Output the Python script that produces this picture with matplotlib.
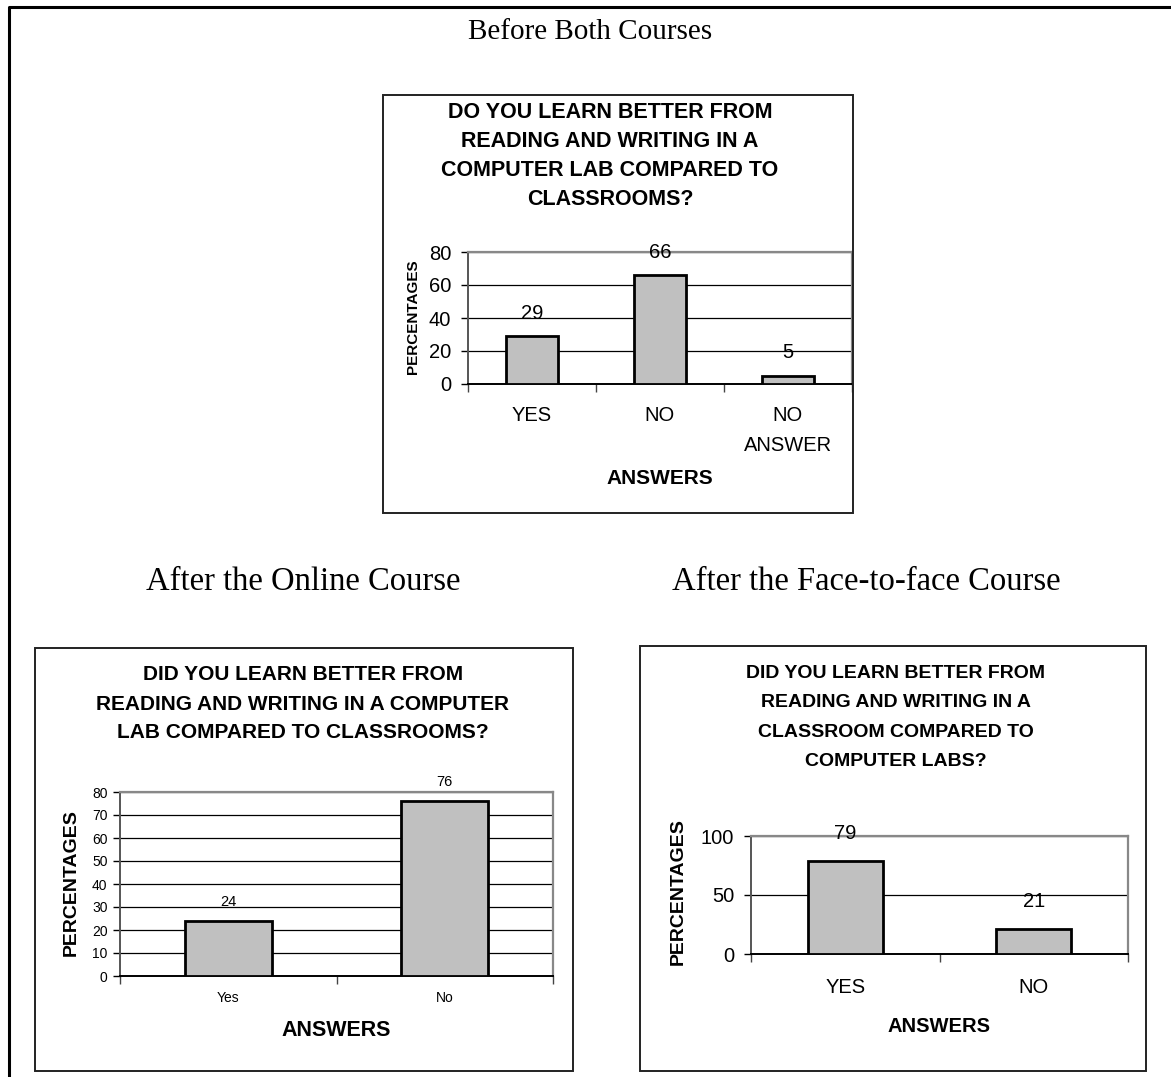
import numpy as np
import matplotlib
matplotlib.use('Agg')
from matplotlib import pyplot as plt
from matplotlib.patches import Rectangle
from matplotlib.lines import Line2D

# survey answers, in percent
before_cats = ['YES', 'NO', 'NO\nANSWER']
before_vals = [29, 66, 5]

online_cats = ['Yes', 'No']
online_vals = [24, 76]

f2f_cats = ['YES', 'NO']
f2f_vals = [79, 21]

W, H = 1171, 1077
SANS = 'Liberation Sans'
SERIF = 'Liberation Serif'


def fx(x):
    return x / W


def fy(y):
    return 1 - y / H


def ftext(fig, x, y, s, **kw):
    fig.text(fx(x), fy(y), s, ha='center', va='center', **kw)


def panel_box(fig, x0, y0, x1, y1):
    fig.add_artist(Rectangle((fx(x0), fy(y1)), fx(x1) - fx(x0), fy(y0) - fy(y1),
                             transform=fig.transFigure, fill=False,
                             edgecolor='#222222', lw=1.4))


def bar_chart(fig, box, cats, vals, ymax, ystep, tick_fs, val_fs, val_off, tick_pad, lab_pad):
    x0, y0, x1, y1 = box
    ax = fig.add_axes([fx(x0), fy(y1), fx(x1) - fx(x0), fy(y0) - fy(y1)])
    n = len(cats)
    pos = np.arange(n)
    ax.bar(pos, vals, width=0.4, color='#c0c0c0', edgecolor='black', lw=2, zorder=3)
    ax.set_xlim(-0.5, n - 0.5)
    ax.set_ylim(0, ymax)
    ax.set_yticks(np.arange(0, ymax + 1, ystep))
    ax.yaxis.grid(True, color='black', lw=0.9, zorder=1)
    ax.set_axisbelow(True)
    ax.tick_params(axis='y', direction='out', length=5, width=1, pad=tick_pad,
                   labelsize=tick_fs, color='black')
    ax.set_xticks(pos)
    ax.set_xticklabels(cats, fontsize=tick_fs, linespacing=1.75)
    ax.tick_params(axis='x', length=0, pad=lab_pad)
    ax.set_xticks(np.arange(-0.5, n, 1.0), minor=True)
    ax.tick_params(axis='x', which='minor', direction='out', length=6, width=1, color='#444444')
    for s in ['top', 'right']:
        ax.spines[s].set_color('#888888')
        ax.spines[s].set_linewidth(1.6)
    ax.spines['left'].set_color('#555555')
    ax.spines['left'].set_linewidth(1.4)
    ax.spines['bottom'].set_color('black')
    ax.spines['bottom'].set_linewidth(1.4)
    for p, v in zip(pos, vals):
        ax.annotate(str(v), (p, v), xytext=(0, val_off), textcoords='offset points',
                    ha='center', va='center', fontsize=val_fs, zorder=5,
                    annotation_clip=False)
    return ax


plt.rcParams['font.family'] = [SANS, 'DejaVu Sans']

fig = plt.figure(figsize=(W / 100, H / 100), dpi=100)

# outer frame: left and top edges only
fig.add_artist(Line2D([fx(9), fx(9), fx(W + 5)], [fy(H + 5), fy(7), fy(7)],
                      transform=fig.transFigure, color='black', lw=2.2))

ftext(fig, 590, 32, 'Before Both Courses', family=SERIF, fontsize=21)
ftext(fig, 303, 582, 'After the Online Course', family=SERIF, fontsize=23.5)
ftext(fig, 866, 582, 'After the Face-to-face Course', family=SERIF, fontsize=23.5)

# top chart
panel_box(fig, 383, 95, 853, 513)
bar_chart(fig, (468, 252, 852, 384), before_cats, before_vals, 80, 20,
          tick_fs=14.5, val_fs=14.5, val_off=16.5, tick_pad=7, lab_pad=16)
for i, line in enumerate(['DO YOU LEARN BETTER FROM', 'READING AND WRITING IN A',
                          'COMPUTER LAB COMPARED TO', 'CLASSROOMS?']):
    ftext(fig, 610, 113 + i * 29, line, fontsize=15.5, weight='bold')
ftext(fig, 660, 478, 'ANSWERS', fontsize=15, weight='bold')
ftext(fig, 413, 317, 'PERCENTAGES', fontsize=11, weight='bold', rotation=90)

# bottom left chart
panel_box(fig, 35, 648, 573, 1071)
bar_chart(fig, (120, 792, 553, 976), online_cats, online_vals, 80, 10,
          tick_fs=10, val_fs=10.5, val_off=13.5, tick_pad=4, lab_pad=11)
for i, line in enumerate(['DID YOU LEARN BETTER FROM', 'READING AND WRITING IN A COMPUTER',
                          'LAB COMPARED TO CLASSROOMS?']):
    ftext(fig, 303, 675 + i * 29, line, fontsize=15, weight='bold')
ftext(fig, 336, 1030, 'ANSWERS', fontsize=15.5, weight='bold')
ftext(fig, 71, 883, 'PERCENTAGES', fontsize=14, weight='bold', rotation=90)

# bottom right chart
panel_box(fig, 640, 646, 1146, 1071)
bar_chart(fig, (751, 836, 1128, 954), f2f_cats, f2f_vals, 100, 50,
          tick_fs=14.5, val_fs=14.5, val_off=20, tick_pad=7, lab_pad=17)
for i, line in enumerate(['DID YOU LEARN BETTER FROM', 'READING AND WRITING IN A',
                          'CLASSROOM COMPARED TO', 'COMPUTER LABS?']):
    ftext(fig, 896, 673 + i * 29.6, line, fontsize=14, weight='bold')
ftext(fig, 939, 1027, 'ANSWERS', fontsize=14.5, weight='bold')
ftext(fig, 678, 892, 'PERCENTAGES', fontsize=14, weight='bold', rotation=90)

fig.savefig('out.png', dpi=100)
